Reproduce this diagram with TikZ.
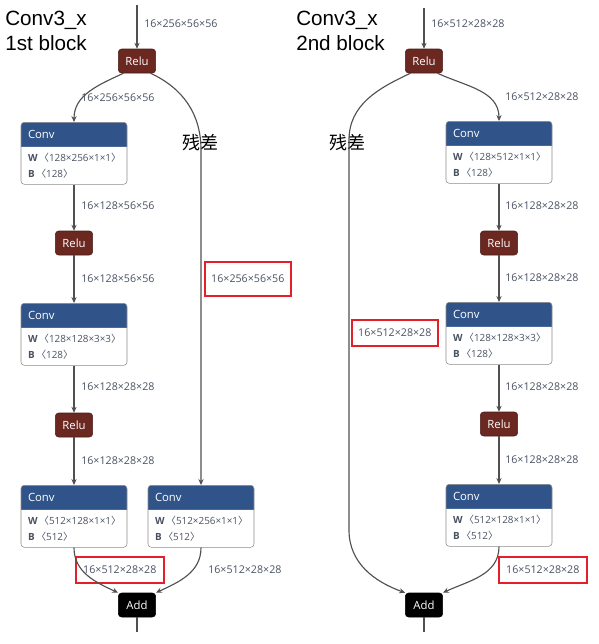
\documentclass[tikz,border=0pt]{standalone}
\usepackage{fontspec}
\setmainfont{Liberation Sans}
\newfontfamily\dimfont{Open Sans}
\newfontfamily\cjk{Noto Sans CJK SC}
\usetikzlibrary{shapes.multipart,arrows.meta}
\definecolor{convblue}{HTML}{30548A}
\definecolor{relured}{HTML}{6B2821}
\definecolor{dimgray}{HTML}{4A5262}
\definecolor{linegray}{HTML}{505050}
\definecolor{boxred}{HTML}{E3202A}
\newcommand{\convhead}{\rule[-6.4pt]{0pt}{18pt}{\fontsize{8.5}{10}\selectfont\textcolor{white}{Conv}}}
\newcommand{\convbody}[2]{\rule{0pt}{10.5pt}\textbf{W}\,{\cjk〈}#1{\cjk〉}\\\textbf{B}\,{\cjk〈}#2{\cjk〉}\rule[-5.25pt]{0pt}{5.25pt}}

\begin{document}
\begin{tikzpicture}[x=0.75pt,y=-0.75pt,
relu/.style={rectangle, rounded corners=2.5pt, fill=relured, draw=relured!70!black, minimum width=28pt, minimum height=18pt, inner sep=0pt, text=white, font=\dimfont\fontsize{8.5}{10}\selectfont},
add/.style={relu, fill=black, draw=black},
conv/.style={rectangle split, rectangle split parts=2, rectangle split part fill={convblue,white}, rectangle split draw splits=false, draw=black!45, rounded corners=2.5pt, text width=69pt, align=left, inner xsep=5.25pt, inner ysep=0pt, text=dimgray, font=\dimfont\fontsize{7.4}{12}\selectfont},
dim/.style={anchor=west, inner sep=0pt, text=dimgray, font=\dimfont\fontsize{8}{10}\selectfont},
redbox/.style={dim, draw=boxred, line width=1.2pt, minimum width=66pt, minimum height=19.5pt},
title/.style={anchor=north west, inner sep=0pt, align=left, font=\fontsize{15.5}{18.75}\selectfont},
note/.style={inner sep=0pt, font=\cjk\fontsize{13.5}{16}\selectfont}]

\tikzset{flowarrow/.style={draw=linegray, line width=0.85pt, -{Stealth[length=4.5pt,width=4pt]}}}

\useasboundingbox (0,0) rectangle (599,644);

% 1st block
\node[title] (l-title) at (5,11) {Conv3\_x\\1st block};
\coordinate (l-in) at (137,5);
\node[relu] (l-relu1) at (137,61) {Relu};
\node[conv, anchor=north] (l-conv1) at (74,122) {\convhead\nodepart{two}\convbody{128×256×1×1}{128}};
\node[relu] (l-relu2) at (74,243) {Relu};
\node[conv, anchor=north] (l-conv2) at (74,303) {\convhead\nodepart{two}\convbody{128×128×3×3}{128}};
\node[relu] (l-relu3) at (74,425) {Relu};
\node[conv, anchor=north] (l-conv3) at (74,485) {\convhead\nodepart{two}\convbody{512×128×1×1}{512}};
\node[conv, anchor=north] (l-conv4) at (201,485) {\convhead\nodepart{two}\convbody{512×256×1×1}{512}};
\node[add] (l-add) at (137,605) {Add};
\coordinate (l-out) at (137,632);
\coordinate (l-skip) at (201,150);
\node[note] (l-note) at (200,143) {残差};

\node[dim] (l-d0) at (144,24) {16×256×56×56};
\node[dim] (l-d1) at (81,98) {16×256×56×56};
\node[dim] (l-d2) at (81,206) {16×128×56×56};
\node[dim] (l-d3) at (81,279) {16×128×56×56};
\node[dim] (l-d4) at (81,387) {16×128×28×28};
\node[dim] (l-d5) at (81,461) {16×128×28×28};
\node[redbox] (l-d6) at (75,570) {16×512×28×28};
\node[dim] (l-d7) at (208,570) {16×512×28×28};
\node[redbox, minimum width=64.5pt, minimum height=25.5pt] (l-d8) at (204,279) {16×256×56×56};

\draw[flowarrow] (l-in) -- (l-relu1);
\draw[flowarrow] ([xshift=4pt]l-relu1.south west) to[out=205,in=90] (l-conv1.north);
\draw[flowarrow] ([xshift=-4pt]l-relu1.south east) to[out=-25,in=90] (l-skip) -- (l-conv4.north);
\draw[flowarrow] (l-conv1.south) -- (l-relu2);
\draw[flowarrow] (l-relu2) -- (l-conv2.north);
\draw[flowarrow] (l-conv2.south) -- (l-relu3);
\draw[flowarrow] (l-relu3) -- (l-conv3.north);
\draw[flowarrow] (l-conv3.south) to[out=-90,in=155] (l-add.north west);
\draw[flowarrow] (l-conv4.south) to[out=-90,in=25] (l-add.north east);
\draw[flowarrow, -] (l-add) -- (l-out);

% 2nd block
\node[title] (r-title) at (296,11) {Conv3\_x\\2nd block};
\coordinate (r-in) at (424,8);
\node[relu] (r-relu1) at (424,61) {Relu};
\node[conv, anchor=north] (r-conv1) at (499,121) {\convhead\nodepart{two}\convbody{128×512×1×1}{128}};
\node[relu] (r-relu2) at (499,243) {Relu};
\node[conv, anchor=north] (r-conv2) at (499,302) {\convhead\nodepart{two}\convbody{128×128×3×3}{128}};
\node[relu] (r-relu3) at (499,424) {Relu};
\node[conv, anchor=north] (r-conv3) at (499,484) {\convhead\nodepart{two}\convbody{512×128×1×1}{512}};
\node[add] (r-add) at (424,605) {Add};
\coordinate (r-out) at (424,632);
\coordinate (r-skip1) at (349,140);
\coordinate (r-skip2) at (349,530);
\node[note] (r-note) at (347,143) {残差};

\node[dim] (r-d0) at (431,24) {16×512×28×28};
\node[dim] (r-d1) at (505,97) {16×512×28×28};
\node[dim] (r-d2) at (505,206) {16×128×28×28};
\node[dim] (r-d3) at (505,278) {16×128×28×28};
\node[dim] (r-d4) at (505,387) {16×128×28×28};
\node[dim] (r-d5) at (505,460) {16×128×28×28};
\node[redbox] (r-d6) at (498,570) {16×512×28×28};
\node[redbox, minimum width=64.5pt] (r-d7) at (351,333) {16×512×28×28};

\draw[flowarrow] (r-in) -- (r-relu1);
\draw[flowarrow] ([xshift=-4pt]r-relu1.south east) to[out=-25,in=90] (r-conv1.north);
\draw[flowarrow] ([xshift=4pt]r-relu1.south west) to[out=205,in=90] (r-skip1) -- (r-skip2) to[out=-90,in=160] (r-add.north west);
\draw[flowarrow] (r-conv1.south) -- (r-relu2);
\draw[flowarrow] (r-relu2) -- (r-conv2.north);
\draw[flowarrow] (r-conv2.south) -- (r-relu3);
\draw[flowarrow] (r-relu3) -- (r-conv3.north);
\draw[flowarrow] (r-conv3.south) to[out=-90,in=25] (r-add.north east);
\draw[flowarrow, -] (r-add) -- (r-out);

\end{tikzpicture}
\end{document}
